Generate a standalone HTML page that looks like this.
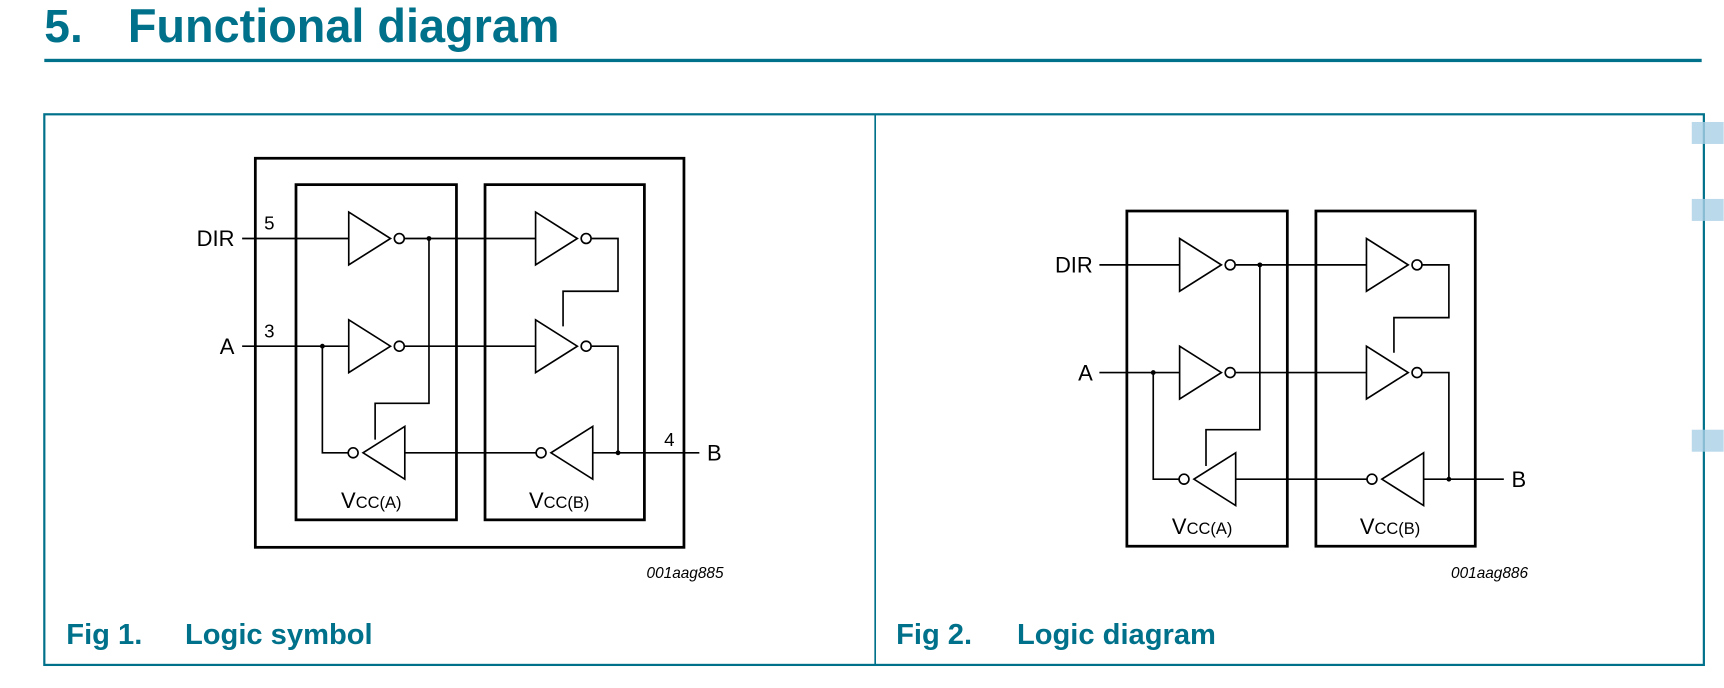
<!DOCTYPE html>
<html><head><style>html,body{margin:0;padding:0;background:#fff}svg{display:block}</style></head><body>
<svg width="1724" height="688" viewBox="0 0 1568 626" xmlns="http://www.w3.org/2000/svg" font-family="Liberation Sans, sans-serif">
<text x="40" y="38" font-size="42" font-weight="bold" fill="#00718a">5.</text>
<text x="116" y="38" font-size="42.6" font-weight="bold" fill="#00718a">Functional diagram</text>
<rect x="40" y="53.5" width="1508" height="3" fill="#00718a"/>
<rect x="40" y="104" width="1510" height="501" fill="none" stroke="#00718a" stroke-width="2"/>
<line x1="796" y1="104" x2="796" y2="605" stroke="#00718a" stroke-width="1.5"/>
<rect x="1539" y="111" width="29" height="20" fill="#a9cfe6" opacity="0.8"/>
<rect x="1539" y="181" width="29" height="20" fill="#a9cfe6" opacity="0.8"/>
<rect x="1539" y="391" width="29" height="20" fill="#a9cfe6" opacity="0.8"/>
<defs>
<g id="core" fill="none" stroke="#000" stroke-width="1.5">
<rect x="269" y="168" width="146" height="305" stroke-width="2.5"/>
<rect x="441" y="168" width="145" height="305" stroke-width="2.5"/>
<polygon points="317,193 355,217 317,241"/><circle cx="363" cy="217" r="4.5"/>
<polygon points="487,193 525,217 487,241"/><circle cx="533" cy="217" r="4.5"/>
<polygon points="317,291 355,315 317,339"/><circle cx="363" cy="315" r="4.5"/>
<polygon points="487,291 525,315 487,339"/><circle cx="533" cy="315" r="4.5"/>
<polygon points="368,388 330,412 368,436"/><circle cx="321" cy="412" r="4.5"/>
<polygon points="539,388 501,412 539,436"/><circle cx="492" cy="412" r="4.5"/>
<path d="M368 217H487M538 217H562V265H512V297"/>
<path d="M390 217V367H341V400"/>
<path d="M368 315H487M538 315H562V412"/>
<path d="M293 315V412H316M368 412H487M539 412H562"/>
</g>
</defs>
<g>
<rect x="232" y="144" width="390" height="354" fill="none" stroke="#000" stroke-width="2.5"/>
<use href="#core"/>
<path d="M220 217H317M220 315H317M562 412H636" stroke="#000" stroke-width="1.5" fill="none"/>
<circle cx="390" cy="217" r="2.2"/><circle cx="293" cy="315" r="2.2"/><circle cx="562" cy="412" r="2.2"/>
<g font-size="20">
<text x="213" y="224" text-anchor="end">DIR</text>
<text x="213" y="322" text-anchor="end">A</text>
<text x="643" y="419">B</text>
<text x="240" y="209" font-size="17">5</text>
<text x="240" y="307" font-size="17">3</text>
<text x="604" y="406" font-size="17">4</text>
<text x="310" y="462">V<tspan font-size="15">CC(A)</tspan></text>
<text x="481" y="462">V<tspan font-size="15">CC(B)</tspan></text>
</g>
<text x="658" y="526" font-size="14" font-style="italic" text-anchor="end">001aag885</text>
</g>
<g transform="translate(756,24)">
<use href="#core"/>
<path d="M244 217H317M244 315H317M562 412H612" stroke="#000" stroke-width="1.5" fill="none"/>
<circle cx="390" cy="217" r="2.2"/><circle cx="293" cy="315" r="2.2"/><circle cx="562" cy="412" r="2.2"/>
<g font-size="20">
<text x="238" y="224" text-anchor="end">DIR</text>
<text x="238" y="322" text-anchor="end">A</text>
<text x="619" y="419">B</text>
<text x="310" y="462">V<tspan font-size="15">CC(A)</tspan></text>
<text x="481" y="462">V<tspan font-size="15">CC(B)</tspan></text>
</g>
<text x="634" y="502" font-size="14" font-style="italic" text-anchor="end">001aag886</text>
</g>
<g font-size="26.5" font-weight="bold" fill="#00718a">
<text x="60" y="586">Fig 1.</text><text x="168" y="586">Logic symbol</text>
<text x="815" y="586">Fig 2.</text><text x="925" y="586">Logic diagram</text>
</g>
</svg>
</body></html>
